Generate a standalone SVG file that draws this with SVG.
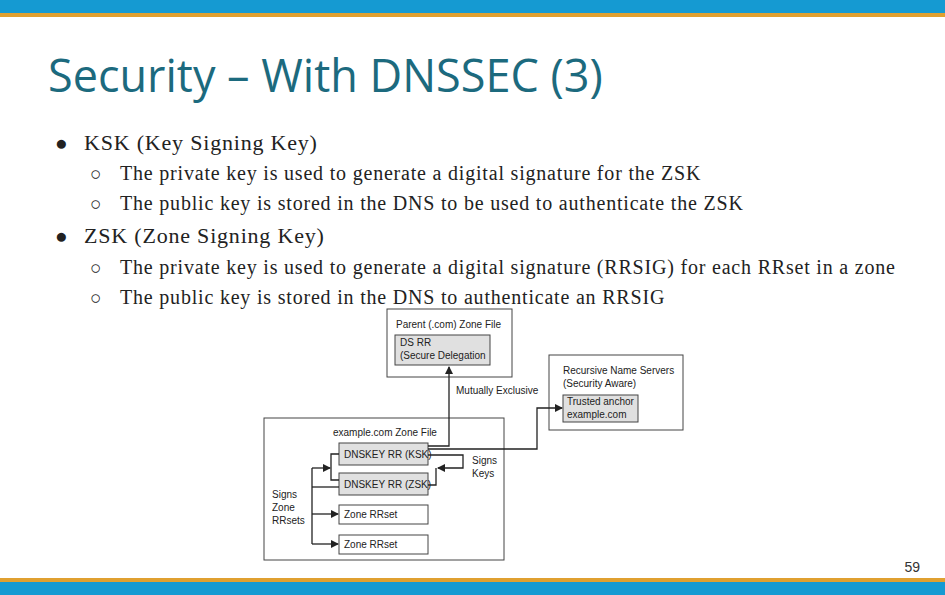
<svg xmlns="http://www.w3.org/2000/svg" width="945" height="595" viewBox="0 0 945 595">
<defs>
<marker id="ah" markerWidth="8" markerHeight="8" refX="7" refY="4" orient="auto" markerUnits="userSpaceOnUse"><path d="M0,0 L8,4 L0,8 Z" fill="#222"/></marker>
<style>
.b{font-family:"Liberation Serif",serif;fill:#222;letter-spacing:0.8px}
.d{font-family:"Liberation Sans",sans-serif;font-size:10px;fill:#222}
.bx{fill:#fff;stroke:#444;stroke-width:1}
.gx{fill:#e0e0e0;stroke:#444;stroke-width:1}
.c{fill:none;stroke:#222;stroke-width:1.3}
</style>
</defs>
<rect width="945" height="595" fill="#fff"/>
<rect x="0" y="0" width="945" height="13" fill="#159ad2"/>
<rect x="0" y="13" width="945" height="4" fill="#e0a030"/>
<rect x="0" y="578" width="945" height="4" fill="#e0a030"/>
<rect x="0" y="582" width="945" height="13" fill="#159ad2"/>
<text x="48" y="92" font-family="Open Sans, sans-serif" font-size="45" fill="#1c6a7e">Security – With DNSSEC (3)</text>
<g class="b">
<text x="55" y="150" font-size="21">●</text><text x="84" y="150" font-size="22">KSK (Key Signing Key)</text>
<text x="90" y="180" font-size="19">○</text><text x="120" y="180" font-size="20">The private key is used to generate a digital signature for the ZSK</text>
<text x="90" y="210" font-size="19">○</text><text x="120" y="210" font-size="20">The public key is stored in the DNS to be used to authenticate the ZSK</text>
<text x="55" y="243" font-size="21">●</text><text x="84" y="243" font-size="22">ZSK (Zone Signing Key)</text>
<text x="90" y="274" font-size="19">○</text><text x="120" y="274" font-size="20">The private key is used to generate a digital signature (RRSIG) for each RRset in a zone</text>
<text x="90" y="304" font-size="19">○</text><text x="120" y="304" font-size="20">The public key is stored in the DNS to authenticate an RRSIG</text>
</g>
<g id="parent"><rect class="bx" x="387" y="309" width="125" height="68"/><text class="d" x="396" y="328">Parent (.com) Zone File</text>
<rect class="gx" x="395" y="335" width="95" height="30"/><text class="d" x="400" y="346">DS RR</text><text class="d" x="400" y="359">(Secure Delegation</text></g>
<g id="recursive"><rect class="bx" x="549" y="355" width="134" height="75"/><text class="d" x="563" y="374">Recursive Name Servers</text><text class="d" x="563" y="387">(Security Aware)</text>
<rect class="gx" x="563" y="395" width="75" height="27"/><text class="d" x="567" y="405">Trusted anchor</text><text class="d" x="567" y="418">example.com</text></g>
<g id="example"><rect class="bx" x="264" y="418" width="240" height="142"/><text class="d" x="333" y="436">example.com Zone File</text></g>
<g id="ksk"><rect class="gx" x="339" y="443" width="89" height="22"/><text class="d" x="344" y="458">DNSKEY RR (KSK)</text></g>
<g id="zsk"><rect class="gx" x="339" y="473" width="89" height="22"/><text class="d" x="344" y="488">DNSKEY RR (ZSK)</text></g>
<g id="rr1"><rect class="bx" x="339" y="505" width="89" height="19"/><text class="d" x="344" y="518">Zone RRset</text></g>
<g id="rr2"><rect class="bx" x="339" y="535" width="89" height="19"/><text class="d" x="344" y="548">Zone RRset</text></g>
<g class="d"><text x="456" y="394">Mutually Exclusive</text>
<text x="472" y="464">Signs</text><text x="472" y="477">Keys</text>
<text x="272" y="498">Signs</text><text x="272" y="511">Zone</text><text x="272" y="524">RRsets</text></g>
<g id="connectors" class="c">
<path d="M428,446 H449 V367" marker-end="url(#ah)"/>
<path d="M428,449 H537 V408 H562" marker-end="url(#ah)"/>
<path d="M428,455 H463 V468 H438" marker-end="url(#ah)"/>
<path d="M428,485 H436 V468"/>
<path d="M339,454 H331 V480 H339"/>
<path d="M312,468 H330" marker-end="url(#ah)"/>
<path d="M339,487 H312"/>
<path d="M312,468 V544"/>
<path d="M312,514 H338" marker-end="url(#ah)"/>
<path d="M312,544 H338" marker-end="url(#ah)"/>
</g>
<text x="920" y="572" font-family="Liberation Sans, sans-serif" font-size="14" fill="#333" text-anchor="end">59</text>
</svg>
